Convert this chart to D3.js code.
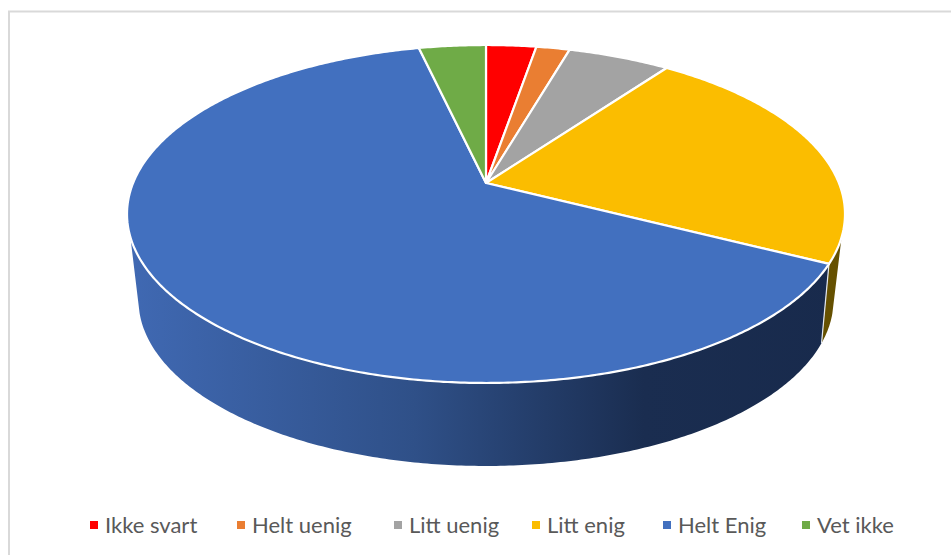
<!DOCTYPE html>
<html>
<head>
<meta charset="utf-8">
<script src="https://cdn.jsdelivr.net/npm/d3@7"></script>
<style>
    html, body { margin: 0; padding: 0; background: #fff; overflow: hidden; }
    text { font-family: Lato, "Open Sans", sans-serif; }
</style>
</head>
<body>
<div id="chart"></div>
<script>
// Chart data (percent)
const categories = ["Ikke svart", "Helt uenig", "Litt uenig", "Litt enig", "Helt Enig", "Vet ikke"];
const values = [2.7, 1.8, 5.5, 22.5, 63.9, 3.6];
const colors = ["#ff0000", "#ea7e32", "#a3a3a3", "#fbbd00", "#4270bf", "#6fab47"];
const sideColors = ["#7f0000", "#77401a", "#535353", "#655000", "#1a2d50", "#385723"];

// Legend layout
const legendX = [90, 237, 394, 532, 663, 802];

const width = 951, height = 555;

// Perspective of each disc: p tilts the plane, the rest places it on screen
const topDisc = {x: 486, y: 183, rx: 352.9, ry: 163.3, p: 0.1834};
const bottomDisc = {x: 486, y: 263.4, rx: 339, ry: 158, p: 0.22};

// Angles where the side wall leaves the silhouette
const wallRightTop = 108.2 * Math.PI / 180, wallRightBottom = 107.1 * Math.PI / 180;
const wallLeftTop = 251.8 * Math.PI / 180, wallLeftBottom = 252.9 * Math.PI / 180;

function project(disc, angle) {
    let u = Math.sin(angle), v = Math.cos(angle), w = 1 + disc.p * v;
    return [disc.x + disc.rx * u / w, disc.y - disc.ry * v / w];
}

function arcPoints(disc, a0, a1) {
    let n = Math.max(2, Math.ceil(Math.abs(a1 - a0) / 0.01));
    return d3.range(n + 1).map(i => project(disc, a0 + (a1 - a0) * i / n));
}

const svg = d3.select("#chart").append("svg")
    .attr("width", width)
    .attr("height", height);

const color = d3.scaleOrdinal().domain(categories).range(colors);
const sideColor = d3.scaleOrdinal().domain(categories).range(sideColors);
const pie = d3.pie().sort(null).value((d, i) => values[i]);
const slices = pie(categories);
const line = d3.line();

// Frame of the pasted picture
svg.append("path")
    .attr("d", "M9,555V11.5H951")
    .attr("fill", "none")
    .attr("stroke", "#d9d9d9")
    .attr("stroke-width", 2);

// Gradient on the big side wall
const grad = svg.append("defs").append("linearGradient")
    .attr("id", "wallGrad")
    .attr("gradientUnits", "userSpaceOnUse")
    .attr("x1", 127).attr("x2", 845).attr("y1", 0).attr("y2", 0);
grad.append("stop").attr("offset", "0%").attr("stop-color", "#4069b3");
grad.append("stop").attr("offset", "40%").attr("stop-color", "#2f5088");
grad.append("stop").attr("offset", "72%").attr("stop-color", "#1a2d50");
grad.append("stop").attr("offset", "100%").attr("stop-color", "#182a4c");

// Side walls, only the two slices facing the viewer show one
const yellow = slices[3], blue = slices[4];

svg.append("path")
    .attr("d", line(arcPoints(topDisc, wallRightTop, yellow.endAngle)
        .concat(arcPoints(bottomDisc, yellow.endAngle, wallRightBottom))) + "Z")
    .attr("fill", sideColor(yellow.data));

svg.append("path")
    .attr("d", line(arcPoints(topDisc, blue.startAngle, wallLeftTop)
        .concat(arcPoints(bottomDisc, wallLeftBottom, blue.startAngle))) + "Z")
    .attr("fill", "url(#wallGrad)");

// Edge between the two walls
svg.append("path")
    .attr("d", line([project(topDisc, yellow.endAngle), project(bottomDisc, yellow.endAngle)]))
    .attr("stroke", "#e4e8ef")
    .attr("stroke-width", 1.2)
    .attr("fill", "none");

// Top face
svg.append("g").selectAll("path")
    .data(slices)
    .enter().append("path")
    .attr("d", d => line([[topDisc.x, topDisc.y]].concat(arcPoints(topDisc, d.startAngle, d.endAngle))) + "Z")
    .attr("fill", d => color(d.data))
    .attr("stroke", "#fff")
    .attr("stroke-width", 2.2)
    .attr("stroke-linejoin", "round");

// Legend
const legend = svg.append("g").selectAll("g")
    .data(categories)
    .enter().append("g")
    .attr("transform", (d, i) => "translate(" + legendX[i] + ",0)");

legend.append("rect")
    .attr("y", 521)
    .attr("width", 8)
    .attr("height", 8)
    .attr("fill", d => color(d));

legend.append("text")
    .attr("x", 15)
    .attr("y", 533)
    .attr("font-size", 22)
    .attr("fill", "#595959")
    .text(d => d);
</script>
</body>
</html>
